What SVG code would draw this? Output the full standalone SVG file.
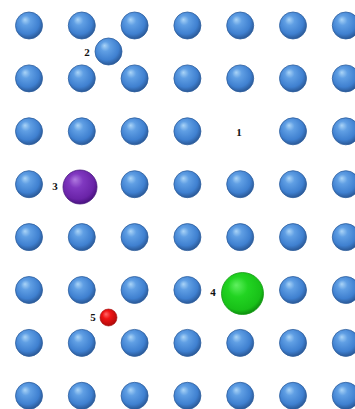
<svg xmlns="http://www.w3.org/2000/svg" xmlns:xlink="http://www.w3.org/1999/xlink" width="355" height="409" viewBox="0 0 355 409">
<style>
.b{fill:url(#gb);stroke:#2f5f9e;stroke-width:0.8}
.lbl{font-family:"Liberation Serif","Times New Roman",serif;font-weight:bold;font-size:11px;fill:#111;text-anchor:middle;dominant-baseline:central}
</style>
<defs>
<radialGradient id="gb" cx="0.45" cy="0.4" r="0.6" fx="0.35" fy="0.28">
<stop offset="0" stop-color="#aad4f7"/>
<stop offset="0.3" stop-color="#609fe4"/>
<stop offset="0.75" stop-color="#3f80d0"/>
<stop offset="1" stop-color="#2a5896"/>
</radialGradient>
<radialGradient id="gp" cx="0.45" cy="0.4" r="0.6" fx="0.35" fy="0.28">
<stop offset="0" stop-color="#b07ae0"/>
<stop offset="0.35" stop-color="#8038c0"/>
<stop offset="0.8" stop-color="#6a24a8"/>
<stop offset="1" stop-color="#4a1280"/>
</radialGradient>
<radialGradient id="gg" cx="0.45" cy="0.4" r="0.6" fx="0.35" fy="0.3">
<stop offset="0" stop-color="#60f060"/>
<stop offset="0.4" stop-color="#22d422"/>
<stop offset="0.85" stop-color="#18c018"/>
<stop offset="1" stop-color="#0e8e0e"/>
</radialGradient>
<radialGradient id="gr" cx="0.45" cy="0.4" r="0.6" fx="0.35" fy="0.3">
<stop offset="0" stop-color="#ff6a6a"/>
<stop offset="0.4" stop-color="#f01414"/>
<stop offset="1" stop-color="#b00a0a"/>
</radialGradient>
<circle id="s" r="13.5" class="b"/>
</defs>
<rect width="355" height="409" fill="#ffffff"/>
<g id="grid">
<g id="r0"><use href="#s" x="29" y="25.5"/><use href="#s" x="81.8" y="25.5"/><use href="#s" x="134.6" y="25.5"/><use href="#s" x="187.4" y="25.5"/><use href="#s" x="240.2" y="25.5"/><use href="#s" x="293" y="25.5"/><use href="#s" x="345.8" y="25.5"/></g>
<g id="r1"><use href="#s" x="29" y="78.4"/><use href="#s" x="81.8" y="78.4"/><use href="#s" x="134.6" y="78.4"/><use href="#s" x="187.4" y="78.4"/><use href="#s" x="240.2" y="78.4"/><use href="#s" x="293" y="78.4"/><use href="#s" x="345.8" y="78.4"/></g>
<g id="r2"><use href="#s" x="29" y="131.3"/><use href="#s" x="81.8" y="131.3"/><use href="#s" x="134.6" y="131.3"/><use href="#s" x="187.4" y="131.3"/><use href="#s" x="293" y="131.3"/><use href="#s" x="345.8" y="131.3"/></g>
<g id="r3"><use href="#s" x="29" y="184.2"/><use href="#s" x="134.6" y="184.2"/><use href="#s" x="187.4" y="184.2"/><use href="#s" x="240.2" y="184.2"/><use href="#s" x="293" y="184.2"/><use href="#s" x="345.8" y="184.2"/></g>
<g id="r4"><use href="#s" x="29" y="237.1"/><use href="#s" x="81.8" y="237.1"/><use href="#s" x="134.6" y="237.1"/><use href="#s" x="187.4" y="237.1"/><use href="#s" x="240.2" y="237.1"/><use href="#s" x="293" y="237.1"/><use href="#s" x="345.8" y="237.1"/></g>
<g id="r5"><use href="#s" x="29" y="290"/><use href="#s" x="81.8" y="290"/><use href="#s" x="134.6" y="290"/><use href="#s" x="187.4" y="290"/><use href="#s" x="293" y="290"/><use href="#s" x="345.8" y="290"/></g>
<g id="r6"><use href="#s" x="29" y="342.9"/><use href="#s" x="81.8" y="342.9"/><use href="#s" x="134.6" y="342.9"/><use href="#s" x="187.4" y="342.9"/><use href="#s" x="240.2" y="342.9"/><use href="#s" x="293" y="342.9"/><use href="#s" x="345.8" y="342.9"/></g>
<g id="r7"><use href="#s" x="29" y="395.8"/><use href="#s" x="81.8" y="395.8"/><use href="#s" x="134.6" y="395.8"/><use href="#s" x="187.4" y="395.8"/><use href="#s" x="240.2" y="395.8"/><use href="#s" x="293" y="395.8"/><use href="#s" x="345.8" y="395.8"/></g>
</g>
<g id="n1"><text class="lbl" x="239" y="132">1</text></g>
<g id="n2"><use href="#s" x="108.5" y="51.5"/><text class="lbl" x="87" y="52">2</text></g>
<g id="n3"><circle cx="80" cy="187" r="17" fill="url(#gp)" stroke="#4a1a80" stroke-width="0.8"/><text class="lbl" x="55" y="186">3</text></g>
<g id="n4"><circle cx="242.5" cy="293.5" r="21" fill="url(#gg)" stroke="#129a12" stroke-width="0.8"/><text class="lbl" x="213" y="292">4</text></g>
<g id="n5"><circle cx="108.5" cy="317.5" r="8.5" fill="url(#gr)" stroke="#a00a0a" stroke-width="0.6"/><text class="lbl" x="93" y="317">5</text></g>
<g id="connectors"/>
</svg>
